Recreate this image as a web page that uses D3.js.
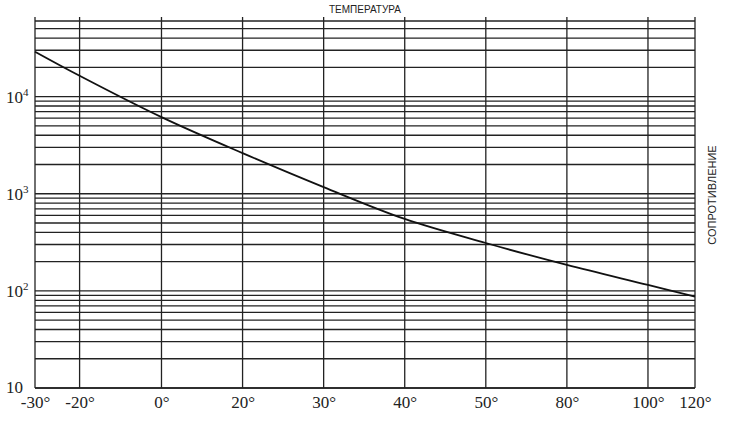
<!DOCTYPE html><html><head><meta charset="utf-8"><script src="https://d3js.org/d3.v7.min.js"></script>
<style>body{margin:0;background:#fff}</style></head><body><svg width="730" height="421"></svg><script>
const tempTicks=[-30,-20,0,20,30,40,50,80,100,120];
const tickUnits=[0,0.55,1.56,2.56,3.56,4.56,5.56,6.56,7.56,8.14];
const curveT=[-30,-20,0,20,30,40,50,80,100,120];
const curveR=[29000,16400,6150,2620,1170,550,311,185,115,87];
const yLabels=[{v:10,t:"10",e:""},{v:100,t:"10",e:"2"},{v:1000,t:"10",e:"3"},{v:10000,t:"10",e:"4"}];
const svg=d3.select("svg");
const L=35,R=695,T=17,B=388;
const u=d3.scaleLinear().domain([0,8.14]).range([L,R]);
const x=d3.scaleLinear().domain(tempTicks).range(tickUnits.map(u));
const y=d3.scaleLog().domain([10,66000]).range([B,T]);
const grid=[];for(let d=10;d<=10000;d*=10)for(let k=1;k<10;k++){const v=d*k;if(v<=66000)grid.push(v);}
svg.selectAll(".h").data(grid).enter().append("line").attr("x1",L).attr("x2",R).attr("y1",d=>y(d)).attr("y2",d=>y(d)).attr("stroke","#222").attr("stroke-width",1.3);
svg.selectAll(".v").data(tempTicks).enter().append("line").attr("x1",d=>x(d)).attr("x2",d=>x(d)).attr("y1",T).attr("y2",B).attr("stroke","#222").attr("stroke-width",1.3);
svg.append("line").attr("x1",L).attr("x2",R).attr("y1",B).attr("y2",B).attr("stroke","#222").attr("stroke-width",1.6);
svg.append("path").datum(curveT.map((t,i)=>[t,curveR[i]])).attr("d",d3.line().x(d=>x(d[0])).y(d=>y(d[1])).curve(d3.curveCatmullRom)).attr("fill","none").attr("stroke","#111").attr("stroke-width",1.8);
const xa=svg.append("g").attr("transform",`translate(0,${B})`).call(d3.axisBottom(x).tickValues(tempTicks).tickSize(0).tickPadding(8).tickFormat(d=>d+"°"));
xa.select(".domain").remove();
xa.selectAll("text").attr("font-family","Liberation Serif").attr("font-size",17).attr("fill","#222");
const yl=svg.selectAll(".yl").data(yLabels).enter().append("text").attr("x",6).attr("y",d=>y(d.v)+(d.e?6:5)).attr("font-family","Liberation Serif").attr("font-size",17).attr("fill","#222");
yl.append("tspan").text(d=>d.t);
yl.append("tspan").attr("dy",-7).attr("font-size",11).text(d=>d.e);
svg.append("text").attr("x",365).attr("y",13).attr("text-anchor","middle").attr("font-family","Liberation Sans Narrow, Liberation Sans").attr("font-size",10).attr("fill","#222").text("ТЕМПЕРАТУРА");
svg.append("text").attr("transform","translate(716,195) rotate(-90)").attr("text-anchor","middle").attr("font-family","Liberation Sans Narrow, Liberation Sans").attr("font-size",11).attr("fill","#222").text("СОПРОТИВЛЕНИЕ");
</script></body></html>
